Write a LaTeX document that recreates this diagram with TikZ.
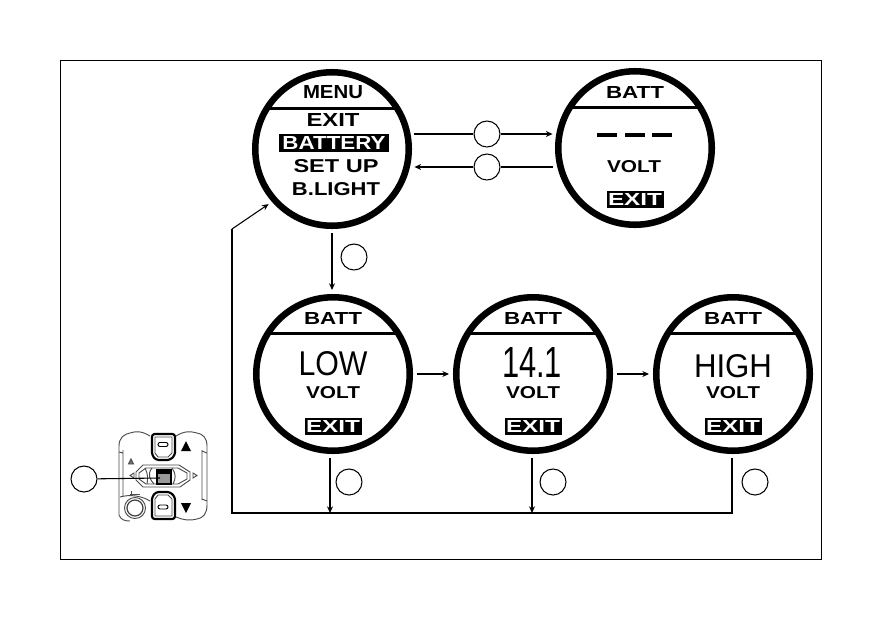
\documentclass[tikz,border=0pt]{standalone}
\usepackage{graphicx}
\usepackage{fontspec}
\setmainfont{Liberation Sans}
\newcommand{\fitbold}[3]{\resizebox{#1\pxu}{#2\pxu}{\bfseries #3}}
\newcommand{\fitthin}[3]{\resizebox{#1\pxu}{#2\pxu}{#3}}
\newlength{\pxu}\setlength{\pxu}{0.75pt}
\tikzset{
  x=0.75pt,y=-0.75pt,
  ring/.style={circle,draw,line width=4.9pt,minimum size=153.5*0.75pt,inner sep=0pt,outer sep=5.45pt},
  callout/.style={circle,draw,line width=0.8pt,minimum size=26*0.75pt,inner sep=0pt,fill=white},
  label/.style={inner sep=0pt,outer sep=0pt},
  inverse/.style={fill=black,text=white,inner sep=0pt,outer sep=0pt,minimum height=17*0.75pt},
  conn/.style={line width=0.8pt},
  arr/.style={line width=0.8pt,-{Stealth[length=5pt,width=4.5pt]}},
  divider/.style={line width=2.4pt},
  dash bar/.style={line width=3.4pt},
  gear/.style={line width=0.7pt,draw=black!70},
}
\usetikzlibrary{arrows.meta}
\begin{document}
\begin{tikzpicture}
\useasboundingbox (0,0) rectangle (882,636);
\fill[white] (0,0) rectangle (882,636);
\draw[line width=0.75pt] (60.5,60.5) rectangle (821.5,559.5);

% displays
\node[ring] (menu) at (332,149) {};
\node[ring] (top) at (635,148) {};
\node[ring] (low) at (333,374) {};
\node[ring] (mid) at (533,374) {};
\node[ring] (high) at (733,374) {};

% dividers
\foreach \c in {menu,top,low,mid,high}
  \draw[divider] ([shift={(-66,-40.3)}]\c.center) -- ([shift={(66,-40.3)}]\c.center);

% menu screen
\node[label] (mt) at (333,92) {\fitbold{60}{13}{MENU}};
\node[label] (m1) at (333,120) {\fitbold{53}{13}{EXIT}};
\node[inverse,minimum width=110*0.75pt,minimum height=18*0.75pt] (m2) at (334,143) {\fitbold{103}{13}{BATTERY}};
\node[label] (m3) at (336,166) {\fitbold{85}{13}{SET UP}};
\node[label] (m4) at (336,189) {\fitbold{88}{13}{B.LIGHT}};

% top right screen
\node[label] (tt) at (635,92) {\fitbold{58}{12}{BATT}};
\draw[dash bar] (597,135) -- (617,135) (625,135) -- (645,135) (652,135) -- (672,135);
\node[label] (tv) at (634,167) {\fitbold{54}{12}{VOLT}};
\node[inverse,minimum width=57*0.75pt] (te) at (635,199.5) {\fitbold{54}{12}{EXIT}};

% lower screens
\foreach \c/\x in {low/333,mid/533,high/733}{
  \node[label] (\c t) at (\x,318) {\fitbold{58}{12}{BATT}};
  \node[label] (\c v) at (\x,393) {\fitbold{54}{12}{VOLT}};
  \node[inverse,minimum width=57*0.75pt] (\c e) at (\x,426.5) {\fitbold{54}{12}{EXIT}};
}
\node[label] (lowb) at (333,364) {\fitthin{69}{24}{LOW}};
\node[label] (midb) at (532,362) {\fitthin{60}{30}{14.1}};
\node[label] (highb) at (733,366) {\fitthin{78}{23}{HIGH}};

% callouts
\node[callout] (c1) at (487,134) {};
\node[callout] (c2) at (487,167) {};
\node[callout] (c3) at (354,257) {};
\node[callout] (c4) at (349,482) {};
\node[callout] (c5) at (553,482) {};
\node[callout] (c6) at (755,482) {};
\node[callout] (c7) at (84,479) {};

% connectors
\draw[conn] (menu.11 |- c1) -- (c1);
\draw[arr] (c1) -- (top.169 |- c1);
\draw[conn] (top.191 |- c2) -- (c2);
\draw[arr] (c2) -- (menu.349 |- c2);
\draw[arr] (menu.south) -- (menu.south |- low.north);
\draw[arr] (low.east) -- (mid.west);
\draw[arr] (mid.east) -- (high.west);
\coordinate (r0) at (232,513);
\coordinate (r1) at (232,229);
\coordinate (t1) at (330,513);
\coordinate (t2) at (532,513);
\coordinate (t3) at (732,513);
\draw[arr] (low.south -| t1) -- (t1);
\draw[arr] (mid.south -| t2) -- (t2);
\draw[conn] (high.south -| t3) -- (t3) -- (r0) -- (r1);
\draw[arr] (r1) -- (menu.221);

% handlebar switch
\begin{scope}
  \draw[gear] (119,446) .. controls (119,438) and (124,434) .. (130,433) .. controls (136,431) and (142,431) .. (150,436);
  \draw[gear] (176,436) .. controls (184,431) and (190,431) .. (197,433) .. controls (203,434) and (207,438) .. (207,446)
     -- (207,505) .. controls (207,514) and (203,518) .. (197,519) .. controls (190,521) and (183,520) .. (176,517);
  \draw[gear] (119,446) -- (119,515) .. controls (121,520) and (125,521) .. (130,521);
  \draw[gear] (123,450) -- (123,497) (202,450) -- (202,500) (202,451) -- (207,453) (202,499) -- (207,501) (119,452) -- (123,453);
  \draw[gear] (120,497) .. controls (130,494) and (142,496) .. (150,501);
  \draw[gear] (135,508) circle (10.5);
  \draw[line width=0.9pt,draw=black!75] (135,508) circle (8);
  % buttons
  \draw[line width=1.6pt,fill=white,rounded corners=2pt] (152,434) -- (175,434) -- (175,455) -- (170,460) -- (156,460) -- (152,455) -- cycle;
  \draw[line width=1.6pt,fill=white,rounded corners=2pt] (152,519) -- (175,519) -- (175,497) -- (170,492) -- (156,492) -- (152,497) -- cycle;
  \draw[gear] (155,437) -- (172,437) -- (172,453) -- (168,457) -- (158,457) -- (155,453) -- cycle;
  \draw[gear] (155,516) -- (172,516) -- (172,499) -- (168,495) -- (158,495) -- (155,499) -- cycle;
  \draw[line width=0.7pt,rounded corners=1.5pt] (158,442.5) rectangle (168,446.5);
  \draw[line width=0.7pt,rounded corners=1.5pt] (158,505) rectangle (168,509);
  \fill (181,451) -- (186,441) -- (191,451) -- cycle;
  \fill (181,503) -- (186,513) -- (191,503) -- cycle;
  \draw[gear,fill=black!55] (128.5,464) -- (131,459) -- (133.5,464) -- cycle;
  % slider
  \draw[gear] (143,465) -- (179,465) -- (190,472) -- (190,480) -- (180,487) -- (143,487) -- (136,480) -- (136,472) -- cycle;
  \draw[gear] (146,468) -- (178,468) -- (187,473) -- (187,479) -- (178,484) -- (146,484) -- (139,479) -- (139,473) -- cycle;
  \draw[gear] (145,468) .. controls (148,474) and (148,478) .. (147,484);
  \draw[gear] (152,468) .. controls (147,474) and (150,480) .. (154,484);
  \draw[gear] (172,468) .. controls (176,474) and (176,478) .. (173,484);
  \draw[line width=1.6pt,fill=black!40] (157,470) rectangle (171,484);
  \fill (157,470) rectangle (171,474);
  \draw[gear] (130,475.5) -- (134,473) -- (134,478) -- cycle;
  \draw[gear] (193,473) -- (197,475.5) -- (193,478) -- cycle;
  \draw[gear] (130,494) -- (140,494) (131,491) -- (131,494);
\end{scope}
\coordinate (c7end) at (160,478);
\draw[conn] (c7) -- (c7end);
\end{tikzpicture}
\end{document}
